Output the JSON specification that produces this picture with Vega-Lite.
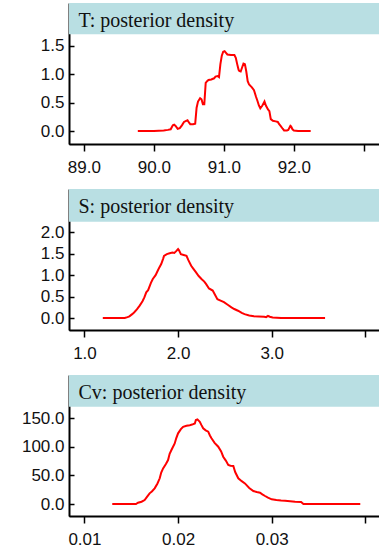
{
  "$schema": "https://vega.github.io/schema/vega-lite/v6.json",
  "padding": {"left": 20, "top": 2, "right": 0, "bottom": 0},
  "background": "white",
  "datasets": {
    "T": [
      {"x": 89.77, "y": 0}, {"x": 90.0, "y": 0}, {"x": 90.14, "y": 0.01}, {"x": 90.2, "y": 0.02}, {"x": 90.24, "y": 0.03},
      {"x": 90.27, "y": 0.1}, {"x": 90.29, "y": 0.11}, {"x": 90.31, "y": 0.09}, {"x": 90.34, "y": 0.04}, {"x": 90.37, "y": 0.05},
      {"x": 90.4, "y": 0.1}, {"x": 90.43, "y": 0.16}, {"x": 90.46, "y": 0.18}, {"x": 90.48, "y": 0.19}, {"x": 90.5, "y": 0.15},
      {"x": 90.52, "y": 0.12}, {"x": 90.56, "y": 0.12}, {"x": 90.59, "y": 0.13}, {"x": 90.61, "y": 0.41}, {"x": 90.63, "y": 0.52},
      {"x": 90.66, "y": 0.58}, {"x": 90.68, "y": 0.56}, {"x": 90.7, "y": 0.47}, {"x": 90.72, "y": 0.47}, {"x": 90.74, "y": 0.85},
      {"x": 90.76, "y": 0.88}, {"x": 90.78, "y": 0.9}, {"x": 90.82, "y": 0.91}, {"x": 90.86, "y": 0.93}, {"x": 90.88, "y": 0.96},
      {"x": 90.91, "y": 0.97}, {"x": 90.93, "y": 0.95}, {"x": 90.95, "y": 1.18}, {"x": 90.97, "y": 1.33}, {"x": 90.99, "y": 1.4},
      {"x": 91.01, "y": 1.41}, {"x": 91.03, "y": 1.38}, {"x": 91.05, "y": 1.35}, {"x": 91.1, "y": 1.34}, {"x": 91.15, "y": 1.34},
      {"x": 91.17, "y": 1.29}, {"x": 91.19, "y": 1.18}, {"x": 91.21, "y": 1.08}, {"x": 91.22, "y": 1.06}, {"x": 91.24, "y": 1.05},
      {"x": 91.26, "y": 1.12}, {"x": 91.28, "y": 1.19}, {"x": 91.3, "y": 1.18}, {"x": 91.32, "y": 1.05}, {"x": 91.34, "y": 0.88},
      {"x": 91.36, "y": 0.82}, {"x": 91.4, "y": 0.77}, {"x": 91.43, "y": 0.72}, {"x": 91.46, "y": 0.6}, {"x": 91.48, "y": 0.53},
      {"x": 91.5, "y": 0.45}, {"x": 91.52, "y": 0.4}, {"x": 91.55, "y": 0.45}, {"x": 91.58, "y": 0.52}, {"x": 91.6, "y": 0.45},
      {"x": 91.63, "y": 0.38}, {"x": 91.65, "y": 0.35}, {"x": 91.67, "y": 0.21}, {"x": 91.7, "y": 0.18}, {"x": 91.74, "y": 0.17},
      {"x": 91.77, "y": 0.16}, {"x": 91.79, "y": 0.12}, {"x": 91.81, "y": 0.09}, {"x": 91.84, "y": 0.04}, {"x": 91.86, "y": 0.01},
      {"x": 91.9, "y": 0.01}, {"x": 91.92, "y": 0.02}, {"x": 91.95, "y": 0.09}, {"x": 91.96, "y": 0.08}, {"x": 91.98, "y": 0.03},
      {"x": 92.0, "y": 0.01}, {"x": 92.06, "y": 0}, {"x": 92.24, "y": 0}
    ],
    "S": [
      {"x": 1.196, "y": 0}, {"x": 1.43, "y": 0}, {"x": 1.46, "y": 0.02}, {"x": 1.48, "y": 0.04}, {"x": 1.51, "y": 0.09},
      {"x": 1.53, "y": 0.13}, {"x": 1.56, "y": 0.2}, {"x": 1.59, "y": 0.29}, {"x": 1.62, "y": 0.39}, {"x": 1.64, "y": 0.48},
      {"x": 1.66, "y": 0.6}, {"x": 1.68, "y": 0.65}, {"x": 1.71, "y": 0.82}, {"x": 1.73, "y": 0.91}, {"x": 1.76, "y": 1.0},
      {"x": 1.78, "y": 1.09}, {"x": 1.8, "y": 1.18}, {"x": 1.82, "y": 1.26}, {"x": 1.84, "y": 1.38}, {"x": 1.85, "y": 1.45},
      {"x": 1.88, "y": 1.49}, {"x": 1.91, "y": 1.51}, {"x": 1.94, "y": 1.53}, {"x": 1.96, "y": 1.52}, {"x": 1.98, "y": 1.56},
      {"x": 2.0, "y": 1.61}, {"x": 2.01, "y": 1.58}, {"x": 2.03, "y": 1.49}, {"x": 2.06, "y": 1.47}, {"x": 2.09, "y": 1.45},
      {"x": 2.11, "y": 1.35}, {"x": 2.14, "y": 1.22}, {"x": 2.16, "y": 1.16}, {"x": 2.19, "y": 1.07}, {"x": 2.22, "y": 0.98},
      {"x": 2.25, "y": 0.91}, {"x": 2.28, "y": 0.85}, {"x": 2.3, "y": 0.79}, {"x": 2.33, "y": 0.69}, {"x": 2.37, "y": 0.64},
      {"x": 2.4, "y": 0.52}, {"x": 2.42, "y": 0.44}, {"x": 2.46, "y": 0.4}, {"x": 2.49, "y": 0.37}, {"x": 2.53, "y": 0.31},
      {"x": 2.57, "y": 0.25}, {"x": 2.6, "y": 0.21}, {"x": 2.64, "y": 0.17}, {"x": 2.68, "y": 0.12}, {"x": 2.71, "y": 0.09},
      {"x": 2.76, "y": 0.06}, {"x": 2.81, "y": 0.04}, {"x": 2.86, "y": 0.035}, {"x": 2.92, "y": 0.03}, {"x": 2.94, "y": 0.02},
      {"x": 2.96, "y": 0.05}, {"x": 2.98, "y": 0.03}, {"x": 3.01, "y": 0.01}, {"x": 3.1, "y": 0}, {"x": 3.57, "y": 0}
    ],
    "Cv": [
      {"x": 0.01297, "y": 0}, {"x": 0.0155, "y": 0}, {"x": 0.01572, "y": 2.3}, {"x": 0.0161, "y": 4}, {"x": 0.01643, "y": 7},
      {"x": 0.0167, "y": 13}, {"x": 0.01696, "y": 18.7}, {"x": 0.0172, "y": 22}, {"x": 0.0175, "y": 27.4}, {"x": 0.0178, "y": 36},
      {"x": 0.01804, "y": 45}, {"x": 0.0182, "y": 55}, {"x": 0.0184, "y": 62.4}, {"x": 0.0187, "y": 70}, {"x": 0.01893, "y": 77},
      {"x": 0.0191, "y": 88}, {"x": 0.01929, "y": 94.5}, {"x": 0.01964, "y": 106}, {"x": 0.0198, "y": 115}, {"x": 0.02, "y": 123.7},
      {"x": 0.0203, "y": 131}, {"x": 0.02054, "y": 135}, {"x": 0.0209, "y": 137}, {"x": 0.02125, "y": 138}, {"x": 0.0215, "y": 139},
      {"x": 0.02179, "y": 141}, {"x": 0.0219, "y": 147}, {"x": 0.02207, "y": 148}, {"x": 0.0222, "y": 146}, {"x": 0.02232, "y": 144},
      {"x": 0.0225, "y": 138}, {"x": 0.02268, "y": 132.5}, {"x": 0.02295, "y": 129}, {"x": 0.02322, "y": 126.6}, {"x": 0.0234, "y": 120},
      {"x": 0.02357, "y": 115}, {"x": 0.0239, "y": 107}, {"x": 0.02429, "y": 100.3}, {"x": 0.0246, "y": 92}, {"x": 0.02482, "y": 82.8},
      {"x": 0.0251, "y": 76}, {"x": 0.02536, "y": 68.3}, {"x": 0.0256, "y": 67}, {"x": 0.0259, "y": 66.5}, {"x": 0.0261, "y": 56},
      {"x": 0.02643, "y": 45}, {"x": 0.0268, "y": 40}, {"x": 0.02714, "y": 36}, {"x": 0.0276, "y": 28}, {"x": 0.02804, "y": 22.7},
      {"x": 0.0284, "y": 21}, {"x": 0.02875, "y": 19.8}, {"x": 0.029, "y": 17}, {"x": 0.02929, "y": 14}, {"x": 0.0296, "y": 11},
      {"x": 0.03, "y": 8.2}, {"x": 0.0305, "y": 7}, {"x": 0.031, "y": 6}, {"x": 0.03143, "y": 5.8}, {"x": 0.0325, "y": 4},
      {"x": 0.03314, "y": 3.5}, {"x": 0.03339, "y": 0}, {"x": 0.03946, "y": 0}
    ]
  },
  "vconcat": [
    {
      "width": 310, "height": 141,
      "resolve": {"axis": {"x": "independent", "y": "independent"}},
      "layer": [
        {
          "data": {"name": "T"},
          "mark": {"type": "line", "color": "#ff0000", "strokeWidth": 2},
          "encoding": {
            "x": {"field": "x", "type": "quantitative", "scale": {"domain": [88.787, 93.216], "nice": false, "zero": false},
                  "axis": {"values": [89, 90, 91, 92, 93], "labelExpr": "datum.value > 92.5 ? '' : format(datum.value, '.1f')", "title": null, "labelOverlap": false}},
            "y": {"field": "y", "type": "quantitative", "scale": {"domain": [-0.2294, 2.2588], "nice": false, "zero": false},
                  "axis": {"values": [0, 0.5, 1, 1.5], "format": ".1f", "title": null, "labelOverlap": false}}
          }
        },
        {
          "data": {"values": [{"label": "T: posterior density", "lo": 1.706, "hi": 2.2588, "left": 88.787}]},
          "mark": {"type": "rect", "color": "#b9dfe3"},
          "encoding": {
            "y": {"field": "lo", "type": "quantitative", "axis": null},
            "y2": {"field": "hi"}
          }
        },
        {
          "data": {"values": [{"label": "T: posterior density", "lo": 1.706, "hi": 2.2588, "left": 88.787}]},
          "mark": {"type": "text", "align": "left", "baseline": "alphabetic", "dx": 9.5, "dy": 24.3, "font": "Liberation Serif", "fontSize": 20, "color": "#111111"},
          "encoding": {
            "x": {"field": "left", "type": "quantitative", "axis": null},
            "y": {"field": "hi", "type": "quantitative", "axis": null},
            "text": {"field": "label"}
          }
        }
      ]
    },
    {
      "width": 310, "height": 141,
      "resolve": {"axis": {"x": "independent", "y": "independent"}},
      "layer": [
        {
          "data": {"name": "S"},
          "mark": {"type": "line", "color": "#ff0000", "strokeWidth": 2},
          "encoding": {
            "x": {"field": "x", "type": "quantitative", "scale": {"domain": [0.835, 4.146], "nice": false, "zero": false},
                  "axis": {"values": [1, 2, 3, 4], "labelExpr": "datum.value > 3.5 ? '' : format(datum.value, '.1f')", "title": null, "labelOverlap": false}},
            "y": {"field": "y", "type": "quantitative", "scale": {"domain": [-0.28, 3.0105], "nice": false, "zero": false},
                  "axis": {"values": [0, 0.5, 1, 1.5, 2], "format": ".1f", "title": null, "labelOverlap": false}}
          }
        },
        {
          "data": {"values": [{"label": "S: posterior density", "lo": 2.247, "hi": 3.0105, "left": 0.835}]},
          "mark": {"type": "rect", "color": "#b9dfe3"},
          "encoding": {
            "y": {"field": "lo", "type": "quantitative", "axis": null},
            "y2": {"field": "hi"}
          }
        },
        {
          "data": {"values": [{"label": "S: posterior density", "lo": 2.247, "hi": 3.0105, "left": 0.835}]},
          "mark": {"type": "text", "align": "left", "baseline": "alphabetic", "dx": 9.5, "dy": 24.3, "font": "Liberation Serif", "fontSize": 20, "color": "#111111"},
          "encoding": {
            "x": {"field": "left", "type": "quantitative", "axis": null},
            "y": {"field": "hi", "type": "quantitative", "axis": null},
            "text": {"field": "label"}
          }
        }
      ]
    },
    {
      "width": 310, "height": 141,
      "resolve": {"axis": {"x": "independent", "y": "independent"}},
      "layer": [
        {
          "data": {"name": "Cv"},
          "mark": {"type": "line", "color": "#ff0000", "strokeWidth": 2},
          "encoding": {
            "x": {"field": "x", "type": "quantitative", "scale": {"domain": [0.00835, 0.04146], "nice": false, "zero": false},
                  "axis": {"values": [0.01, 0.02, 0.03, 0.04], "labelExpr": "datum.value > 0.035 ? '' : format(datum.value, '.2f')", "title": null, "labelOverlap": false}},
            "y": {"field": "y", "type": "quantitative", "scale": {"domain": [-21.0, 225.8], "nice": false, "zero": false},
                  "axis": {"values": [0, 50, 100, 150], "format": ".1f", "title": null, "labelOverlap": false}}
          }
        },
        {
          "data": {"values": [{"label": "Cv: posterior density", "lo": 170.3, "hi": 225.8, "left": 0.00835}]},
          "mark": {"type": "rect", "color": "#b9dfe3"},
          "encoding": {
            "y": {"field": "lo", "type": "quantitative", "axis": null},
            "y2": {"field": "hi"}
          }
        },
        {
          "data": {"values": [{"label": "Cv: posterior density", "lo": 170.3, "hi": 225.8, "left": 0.00835}]},
          "mark": {"type": "text", "align": "left", "baseline": "alphabetic", "dx": 9.5, "dy": 24.3, "font": "Liberation Serif", "fontSize": 20, "color": "#111111"},
          "encoding": {
            "x": {"field": "left", "type": "quantitative", "axis": null},
            "y": {"field": "hi", "type": "quantitative", "axis": null},
            "text": {"field": "label"}
          }
        }
      ]
    }
  ],
  "spacing": 45,
  "bounds": "flush",
  "config": {
    "view": {"stroke": "#000000", "strokeWidth": 1},
    "axis": {
      "grid": false,
      "domainColor": "#000000",
      "domainWidth": 2,
      "tickColor": "#000000",
      "tickWidth": 1.5,
      "labelFont": "Liberation Sans",
      "labelFontSize": 17,
      "labelColor": "#111111",
      "labelFlush": false,
      "labelOverlap": false
    },
    "axisX": {"tickSize": 7, "labelPadding": 8},
    "axisY": {"tickSize": -5, "labelPadding": 10}
  }
}
